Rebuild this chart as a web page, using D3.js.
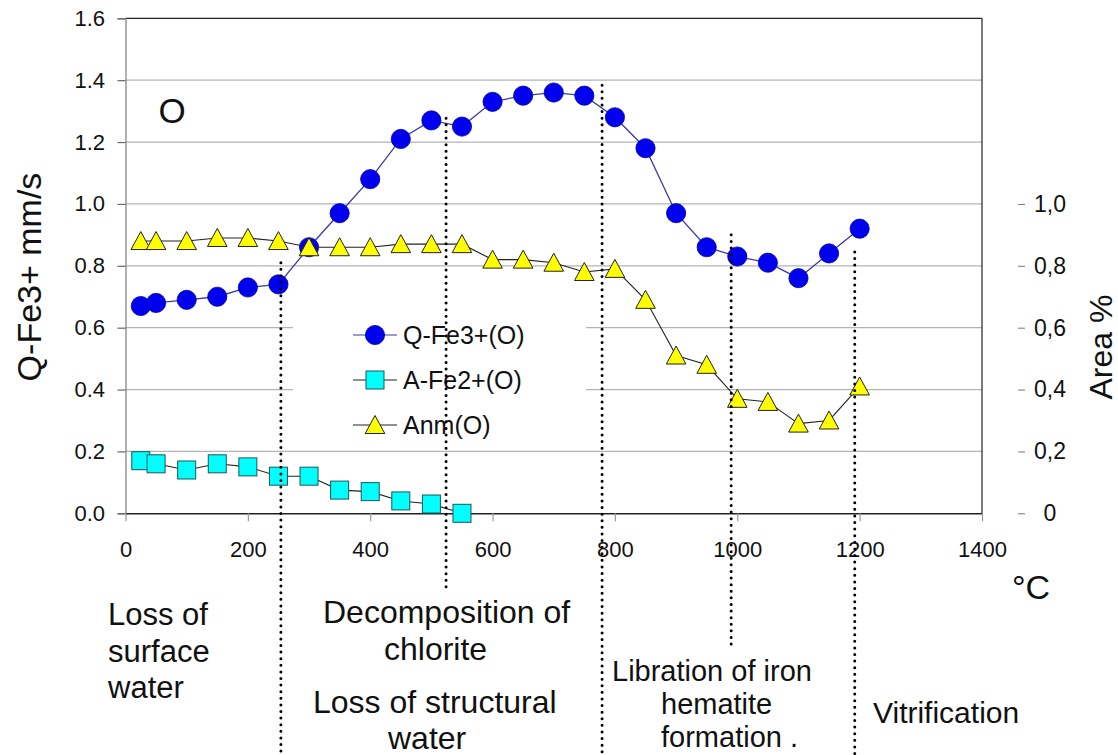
<!DOCTYPE html>
<html>
<head>
<meta charset="utf-8">
<script src="https://cdn.jsdelivr.net/npm/d3@7"></script>
<style>
  html, body { margin: 0; padding: 0; background: #fff; }
  svg { display: block; font-family: "Liberation Sans", Arial, sans-serif; }
</style>
</head>
<body>
<svg id="chart" width="1118" height="755"></svg>
<script>
// ---- data ----
const temps = [25, 50, 100, 150, 200, 250, 300, 350, 400, 450, 500, 550, 600, 650, 700, 750, 800, 850, 900, 950, 1000, 1050, 1100, 1150, 1200];
const qFe3 = [0.67, 0.68, 0.69, 0.70, 0.73, 0.74, 0.86, 0.97, 1.08, 1.21, 1.27, 1.25, 1.33, 1.35, 1.36, 1.35, 1.28, 1.18, 0.97, 0.86, 0.83, 0.81, 0.76, 0.84, 0.92];
const aFe2Temps = [25, 50, 100, 150, 200, 250, 300, 350, 400, 450, 500, 550];
const aFe2 = [0.17, 0.16, 0.14, 0.16, 0.15, 0.12, 0.12, 0.075, 0.07, 0.04, 0.03, 0.0];
const anm = [0.88, 0.88, 0.88, 0.89, 0.89, 0.88, 0.86, 0.86, 0.86, 0.87, 0.87, 0.87, 0.82, 0.82, 0.81, 0.78, 0.79, 0.69, 0.51, 0.48, 0.37, 0.36, 0.29, 0.30, 0.41];
const seriesNames = ["Q-Fe3+(O)", "A-Fe2+(O)", "Anm(O)"];
const xTicks = [0, 200, 400, 600, 800, 1000, 1200, 1400];
const yTicks = [0, 0.2, 0.4, 0.6, 0.8, 1.0, 1.2, 1.4, 1.6];
const yRightTicks = [0, 0.2, 0.4, 0.6, 0.8, 1.0];
const yRightLabels = ["0", "0,2", "0,4", "0,6", "0,8", "1,0"];
// stage boundaries (°C) and the value where each dotted line starts / ends
const stageTemps = [254, 524, 779, 990, 1192];
const stageTop = [0.81, 1.277, 1.384, 0.90, 0.845];
const stageBottom = [-0.785, -0.2575, -0.785, -0.4255, -0.785];

// ---- layout ----
const svg = d3.select("#chart");
const L = 125.5, R = 982, T = 18.3, B = 513.3;
const x = d3.scaleLinear().domain([0, 1400]).range([L, R]);
const y = d3.scaleLinear().domain([0, 1.6]).range([B, T]);

// gridlines
svg.append("g").selectAll("line").data(yTicks.filter(d => d > 0 && d < 1.6)).join("line")
  .attr("x1", L).attr("x2", R).attr("y1", d => y(d)).attr("y2", d => y(d))
  .attr("stroke", "#b4b4b4").attr("stroke-width", 1.2);

// legend background (white box hides gridlines)
svg.append("rect").attr("x", 293).attr("y", 308).attr("width", 293).attr("height", 140).attr("fill", "#fff");

// frame
svg.append("line").attr("x1", L).attr("x2", R).attr("y1", T).attr("y2", T).attr("stroke", "#222").attr("stroke-width", 1.3);
svg.append("line").attr("x1", R).attr("x2", R).attr("y1", T).attr("y2", B).attr("stroke", "#333").attr("stroke-width", 1.3);

// left axis
const gy = svg.append("g").attr("transform", `translate(${L},0)`)
  .call(d3.axisLeft(y).tickValues(yTicks).tickFormat(d3.format(".1f")).tickSize(8).tickPadding(12.5));
gy.select(".domain").attr("stroke", "#888").attr("stroke-width", 1.3);
gy.selectAll(".tick line").attr("stroke", "#666").attr("stroke-width", 1.2);
gy.selectAll("text").attr("font-size", 22).attr("fill", "#111").attr("font-family", "Liberation Sans, Arial, sans-serif");

// bottom axis
const gx = svg.append("g").attr("transform", `translate(0,${B})`)
  .call(d3.axisBottom(x).tickValues(xTicks).tickFormat(d3.format("d")).tickSize(8).tickPadding(20).tickSizeOuter(0));
gx.select(".domain").attr("stroke", "#222").attr("stroke-width", 1.4);
gx.selectAll(".tick line").attr("stroke", "#999").attr("stroke-width", 1.2);
gx.selectAll("text").attr("font-size", 22).attr("fill", "#111").attr("font-family", "Liberation Sans, Arial, sans-serif");

// right axis (labels only with small dashes)
const gr = svg.append("g").attr("transform", `translate(1018,0)`)
  .call(d3.axisRight(y).tickValues(yRightTicks).tickFormat((d, i) => yRightLabels[i]).tickSize(7).tickPadding(8));
gr.select(".domain").remove();
gr.selectAll(".tick line").attr("stroke", "#777").attr("stroke-width", 1);
gr.selectAll("text").attr("font-size", 23).attr("fill", "#111").attr("x", 32).attr("text-anchor", "middle")
  .attr("font-family", "Liberation Sans, Arial, sans-serif");

// axis titles
svg.append("text").attr("transform", "translate(41,277) rotate(-90)").attr("text-anchor", "middle")
  .attr("font-size", 34).attr("fill", "#111").text("Q-Fe3+ mm/s");
svg.append("text").attr("transform", "translate(1112,347) rotate(-90)").attr("text-anchor", "middle")
  .attr("font-size", 32).attr("fill", "#111").text("Area %");
svg.append("text").attr("x", 1012).attr("y", 599).attr("font-size", 34).attr("fill", "#111").text("°C");
svg.append("text").attr("x", 172).attr("y", 123).attr("text-anchor", "middle").attr("font-size", 35).attr("fill", "#111").text("O");

// ---- series ----
const qPts = temps.map((t, i) => [t, qFe3[i]]);
const aPts = aFe2Temps.map((t, i) => [t, aFe2[i]]);
const nPts = temps.map((t, i) => [t, anm[i]]);
const line = d3.line().x(d => x(d[0])).y(d => y(d[1]));
const triPath = "M0,-9.5L9.8,8.5L-9.8,8.5Z";

// Q-Fe3+
svg.append("path").datum(qPts).attr("d", line).attr("fill", "none").attr("stroke", "#3a3aa8").attr("stroke-width", 1.3);
svg.append("g").selectAll("circle").data(qPts).join("circle")
  .attr("cx", d => x(d[0])).attr("cy", d => y(d[1])).attr("r", 9.6)
  .attr("fill", "#0000ee").attr("stroke", "#0000a8").attr("stroke-width", 0.8);

// A-Fe2+
svg.append("path").datum(aPts).attr("d", line).attr("fill", "none").attr("stroke", "#222").attr("stroke-width", 1.1);
svg.append("g").selectAll("rect").data(aPts).join("rect")
  .attr("x", d => x(d[0]) - 9).attr("y", d => y(d[1]) - 9).attr("width", 18).attr("height", 18)
  .attr("fill", "#00ffff").attr("stroke", "#1e5656").attr("stroke-width", 1);

// Anm
svg.append("path").datum(nPts).attr("d", line).attr("fill", "none").attr("stroke", "#222").attr("stroke-width", 1.1);
svg.append("g").selectAll("path").data(nPts).join("path")
  .attr("d", triPath).attr("transform", d => `translate(${x(d[0])},${y(d[1])})`)
  .attr("fill", "#ffff00").attr("stroke", "#222").attr("stroke-width", 1);

// legend
const legRows = [335, 380, 425];
const leg = svg.append("g");
seriesNames.forEach((name, i) => {
  const cy = legRows[i];
  leg.append("line").attr("x1", 353).attr("x2", 397).attr("y1", cy).attr("y2", cy)
    .attr("stroke", i === 0 ? "#3a3aa8" : "#222").attr("stroke-width", 1.2);
  if (i === 0) leg.append("circle").attr("cx", 375).attr("cy", cy).attr("r", 9.6).attr("fill", "#0000ee").attr("stroke", "#0000a8").attr("stroke-width", 0.8);
  if (i === 1) leg.append("rect").attr("x", 366).attr("y", cy - 9).attr("width", 18).attr("height", 18).attr("fill", "#00ffff").attr("stroke", "#1e5656");
  if (i === 2) leg.append("path").attr("d", triPath).attr("transform", `translate(375,${cy})`).attr("fill", "#ffff00").attr("stroke", "#222");
  leg.append("text").attr("x", 403).attr("y", cy + 9).attr("font-size", 25).attr("fill", "#111").text(name);
});

// dotted stage lines
svg.append("g").selectAll("line").data(stageTemps).join("line")
  .attr("x1", d => x(d)).attr("x2", d => x(d))
  .attr("y1", (d, i) => y(stageTop[i])).attr("y2", (d, i) => y(stageBottom[i]))
  .attr("stroke", "#000").attr("stroke-width", 3).attr("stroke-linecap", "round")
  .attr("stroke-dasharray", "0 6.6");

// stage annotations
const notes = [
  { t: "Loss of", x: 108, y: 625, s: 31 },
  { t: "surface", x: 108, y: 662, s: 31 },
  { t: "water", x: 108, y: 698, s: 31 },
  { t: "Decomposition of", x: 323, y: 623, s: 32 },
  { t: "chlorite", x: 384, y: 660, s: 32 },
  { t: "Loss of structural", x: 313, y: 713, s: 32 },
  { t: "water", x: 388, y: 749, s: 32 },
  { t: "Libration of iron", x: 612, y: 681, s: 29 },
  { t: "hematite", x: 661, y: 714, s: 29 },
  { t: "formation .", x: 661, y: 747, s: 29 },
  { t: "Vitrification", x: 873, y: 723, s: 30 }
];
svg.append("g").selectAll("text").data(notes).join("text")
  .attr("x", d => d.x).attr("y", d => d.y).attr("font-size", d => d.s).attr("fill", "#111").text(d => d.t);
</script>
</body>
</html>
